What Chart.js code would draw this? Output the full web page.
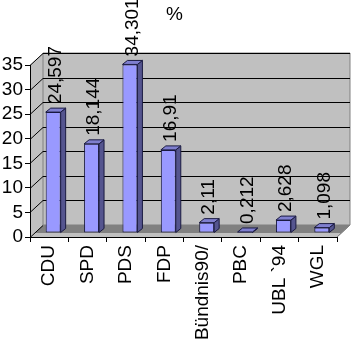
<!DOCTYPE html>
<html>
<head>
<meta charset="utf-8">
<script src="https://cdn.jsdelivr.net/npm/chart.js@4"></script>
<style>
  html, body { margin: 0; padding: 0; background: #fff; }
</style>
</head>
<body>
<canvas id="chart" width="355" height="342"></canvas>
<script>
// data
const parties = ['CDU', 'SPD', 'PDS', 'FDP', 'Bündnis90/', 'PBC', 'UBL `94', 'WGL']
const shares = [24.597, 18.144, 34.301, 16.91, 2.11, 0.212, 2.628, 1.098]
const shareLabels = ['24,597', '18,144', '34,301', '16,91', '2,11', '0,212', '2,628', '1,098']
const chartTitle = '%'
const yMin = 0
const yMax = 35
const yStep = 5

// 3d look
const WALL_DX = 13, WALL_DY = -12
const BAR_DX = 4, BAR_DY = -4
const DEPTH_DX = 5, DEPTH_DY = -4

const FONT = 'Liberation Sans, Arial, Helvetica, sans-serif'
const FONT_SIZE = 19
Chart.defaults.font.family = FONT
Chart.defaults.font.size = FONT_SIZE
Chart.defaults.color = '#000'

function poly(ctx, pts, fill, stroke) {
    ctx.beginPath()
    ctx.moveTo(pts[0][0], pts[0][1])
    for (let i = 1; i < pts.length; i++) ctx.lineTo(pts[i][0], pts[i][1])
    ctx.closePath()
    if (fill) { ctx.fillStyle = fill; ctx.fill() }
    if (stroke) { ctx.strokeStyle = stroke; ctx.lineWidth = 1; ctx.stroke() }
}

const box3d = {
    id: 'box3d',
    beforeDraw(chart) {
        const { ctx, chartArea: a, scales: { y } } = chart
        const L = a.left, R = a.right, T = a.top, B = a.bottom
        ctx.save()
        // floor
        poly(ctx, [[L, B], [L + WALL_DX, B + WALL_DY], [R + WALL_DX, B + WALL_DY], [R, B]], '#c0c0c0')
        poly(ctx, [[L + BAR_DX, B + BAR_DY], [L + WALL_DX, B + WALL_DY], [R + WALL_DX, B + WALL_DY], [R + BAR_DX, B + BAR_DY]], '#808080')
        poly(ctx, [[R, B], [R + WALL_DX, B + WALL_DY]], null, '#808080')
        // side wall + back wall
        poly(ctx, [[L, T], [L + WALL_DX, T + WALL_DY], [L + WALL_DX, B + WALL_DY], [L, B]], '#c0c0c0')
        poly(ctx, [[L + WALL_DX, T + WALL_DY], [R + WALL_DX, T + WALL_DY], [R + WALL_DX, B + WALL_DY], [L + WALL_DX, B + WALL_DY]], '#c0c0c0', '#808080')
        // grid lines on the walls
        ctx.strokeStyle = '#000'
        ctx.lineWidth = 1
        for (let v = yMin; v <= yMax; v += yStep) {
            const py = Math.round(y.getPixelForValue(v)) + 0.5
            ctx.beginPath()
            ctx.moveTo(L, py)
            ctx.lineTo(L + WALL_DX, py + WALL_DY)
            if (v > yMin) ctx.lineTo(R + WALL_DX, py + WALL_DY)
            ctx.stroke()
        }
        // title
        ctx.font = FONT_SIZE + 'px ' + FONT
        ctx.fillStyle = '#000'
        ctx.textAlign = 'center'
        ctx.textBaseline = 'middle'
        ctx.fillText(chartTitle, 174.5, 15)
        ctx.restore()
    },
    beforeDatasetsDraw(chart) {
        chart.ctx.save()
        chart.ctx.translate(BAR_DX, BAR_DY)
    },
    afterDatasetsDraw(chart) {
        const ctx = chart.ctx
        ctx.restore()
        const meta = chart.getDatasetMeta(0)
        meta.data.forEach((bar, i) => {
            const { x, y, base, width } = bar.getProps(['x', 'y', 'base', 'width'], true)
            const l = x - width / 2 + BAR_DX, r = x + width / 2 + BAR_DX
            const t = y + BAR_DY, b = base + BAR_DY
            poly(ctx, [[r, t], [r + DEPTH_DX, t + DEPTH_DY], [r + DEPTH_DX, b + DEPTH_DY], [r, b]], '#55558f', '#1a1a40')
            poly(ctx, [[l, t], [l + DEPTH_DX, t + DEPTH_DY], [r + DEPTH_DX, t + DEPTH_DY], [r, t]], '#7f7fcf', '#1a1a40')
            // value label
            ctx.save()
            ctx.translate(x + BAR_DX + DEPTH_DX / 2, t + DEPTH_DY - 4)
            ctx.rotate(-Math.PI / 2)
            ctx.font = FONT_SIZE + 'px ' + FONT
            ctx.fillStyle = '#000'
            ctx.textAlign = 'left'
            ctx.textBaseline = 'middle'
            ctx.fillText(shareLabels[i], 0, 0)
            ctx.restore()
        })
    }
}

new Chart(document.getElementById('chart'), {
    type: 'bar',
    data: {
        labels: parties,
        datasets: [{
            data: shares,
            backgroundColor: '#9999ff',
            borderColor: '#1a1a40',
            borderWidth: 1,
            borderSkipped: false,
            categoryPercentage: 1,
            barPercentage: 0.39
        }]
    },
    options: {
        responsive: false,
        animation: false,
        layout: { padding: { left: 0, right: 18, top: 65, bottom: 0 } },
        plugins: {
            legend: { display: false },
            tooltip: { enabled: false },
            title: { display: false }
        },
        scales: {
            x: {
                grid: { drawOnChartArea: false, drawTicks: true, tickLength: 5, color: '#000' },
                border: { display: true, color: '#000' },
                ticks: { minRotation: 90, maxRotation: 90, padding: 3, autoSkip: false },
                afterFit: scale => { scale.height = 105 }
            },
            y: {
                min: yMin,
                max: yMax,
                grid: { drawOnChartArea: false, drawTicks: true, tickLength: 5, color: '#000' },
                border: { display: true, color: '#000' },
                ticks: { stepSize: yStep, padding: 2, autoSkip: false },
                afterFit: scale => { scale.width = 30 }
            }
        }
    },
    plugins: [box3d]
})
</script>
</body>
</html>
